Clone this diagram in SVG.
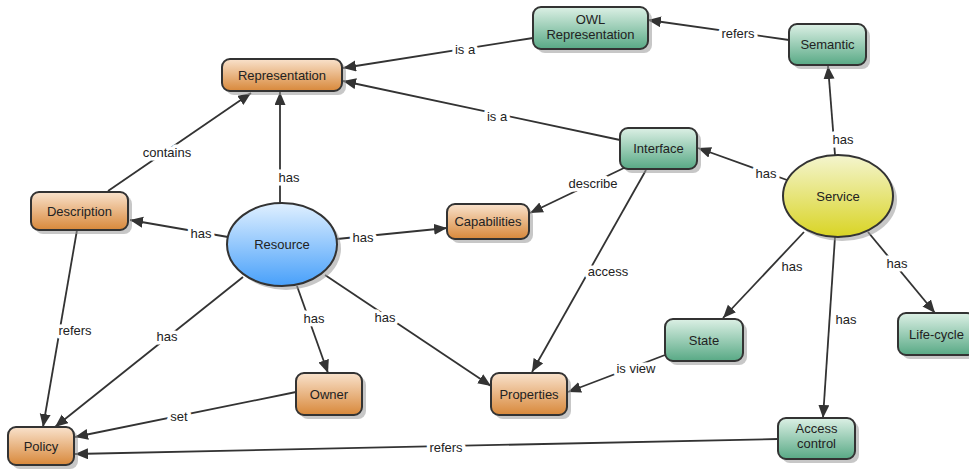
<svg xmlns="http://www.w3.org/2000/svg" width="969" height="470" viewBox="0 0 969 470">
<defs>
<linearGradient id="gOr" x1="0" y1="0" x2="0" y2="1"><stop offset="0" stop-color="#f9e2cc"/><stop offset="1" stop-color="#d8883a"/></linearGradient>
<linearGradient id="gGr" x1="0" y1="0" x2="0" y2="1"><stop offset="0" stop-color="#dcf0e5"/><stop offset="1" stop-color="#58a985"/></linearGradient>
<linearGradient id="gBl" x1="0" y1="0" x2="0" y2="1"><stop offset="0" stop-color="#e0f0ff"/><stop offset="1" stop-color="#48a0fa"/></linearGradient>
<linearGradient id="gYe" x1="0" y1="0" x2="0" y2="1"><stop offset="0" stop-color="#f4f5cf"/><stop offset="1" stop-color="#d9d424"/></linearGradient>
<marker id="arr" markerUnits="userSpaceOnUse" markerWidth="14" markerHeight="12" refX="13" refY="5.5" orient="auto"><path d="M0,0 L13,5.5 L0,11 z" fill="#333"/></marker>
<style>
.n{stroke:#333;stroke-width:2}
.sh{fill:#999;opacity:.55}
.t{font-family:"Liberation Sans",Arial,sans-serif;font-size:13px;fill:#222;text-anchor:middle}
.l{font-family:"Liberation Sans",Arial,sans-serif;font-size:13px;fill:#222;text-anchor:middle;stroke:#fff;stroke-width:7;paint-order:stroke;stroke-linejoin:round}
.c{stroke:#333;stroke-width:1.8;fill:none}
.a{marker-end:url(#arr)}
</style>
</defs>
<rect width="969" height="470" fill="#fff"/>
<g id="connectors">
<line class="c a" x1="533" y1="38" x2="343" y2="68"/>
<line class="c a" x1="620" y1="140" x2="343" y2="81"/>
<line class="c a" x1="789" y1="40" x2="648" y2="20"/>
<line class="c a" x1="835" y1="155" x2="828" y2="66"/>
<line class="c a" x1="787" y1="180" x2="698" y2="148"/>
<line class="c a" x1="280" y1="203" x2="280" y2="92"/>
<line class="c a" x1="108" y1="191" x2="251" y2="93"/>
<line class="c a" x1="228" y1="237" x2="130" y2="220"/>
<line class="c a" x1="337" y1="239" x2="447" y2="228"/>
<line class="c a" x1="626" y1="167" x2="530" y2="213"/>
<line class="c a" x1="646" y1="170" x2="532" y2="372"/>
<line class="c a" x1="325" y1="275" x2="491" y2="386"/>
<line class="c a" x1="297" y1="286" x2="328" y2="373"/>
<line class="c a" x1="243" y1="277" x2="55" y2="427"/>
<line class="c a" x1="77" y1="230" x2="43" y2="427"/>
<line class="c a" x1="296" y1="392" x2="75" y2="437"/>
<line class="c a" x1="778" y1="439" x2="75" y2="454"/>
<line class="c a" x1="804" y1="232" x2="723" y2="318"/>
<line class="c a" x1="835" y1="237" x2="823" y2="418"/>
<line class="c a" x1="868" y1="232" x2="935" y2="313"/>
<line class="c a" x1="665" y1="355" x2="568" y2="392"/>
<text class="l" x="465" y="54">is a</text>
<text class="l" x="497" y="121">is a</text>
<text class="l" x="738" y="38">refers</text>
<text class="l" x="843" y="144">has</text>
<text class="l" x="766" y="178">has</text>
<text class="l" x="289" y="182">has</text>
<text class="l" x="167" y="157">contains</text>
<text class="l" x="201" y="238">has</text>
<text class="l" x="363" y="242">has</text>
<text class="l" x="593" y="188">describe</text>
<text class="l" x="608" y="276">access</text>
<text class="l" x="385" y="322">has</text>
<text class="l" x="314" y="323">has</text>
<text class="l" x="167" y="341">has</text>
<text class="l" x="75" y="335">refers</text>
<text class="l" x="179" y="421">set</text>
<text class="l" x="446" y="452">refers</text>
<text class="l" x="792" y="271">has</text>
<text class="l" x="846" y="324">has</text>
<text class="l" x="897" y="268">has</text>
<text class="l" x="636" y="373">is view</text>
</g>
<g id="representation"><rect class="sh" x="226" y="63" width="120" height="32" rx="8"/><rect class="n" x="222" y="59" width="120" height="32" rx="8" fill="url(#gOr)"/><text class="t" x="282" y="79.5">Representation</text></g>
<g id="owl-representation"><rect class="sh" x="537" y="11" width="115" height="42" rx="8"/><rect class="n" x="533" y="7" width="115" height="42" rx="8" fill="url(#gGr)"/><text class="t" x="590.5" y="24">OWL</text><text class="t" x="590.5" y="39">Representation</text></g>
<g id="semantic"><rect class="sh" x="793" y="28" width="77" height="41" rx="8"/><rect class="n" x="789" y="24" width="77" height="41" rx="8" fill="url(#gGr)"/><text class="t" x="827.5" y="49">Semantic</text></g>
<g id="interface"><rect class="sh" x="624" y="132" width="77" height="41" rx="8"/><rect class="n" x="620" y="128" width="77" height="41" rx="8" fill="url(#gGr)"/><text class="t" x="658.5" y="153">Interface</text></g>
<g id="service"><ellipse class="sh" cx="842" cy="200" rx="55" ry="41"/><ellipse class="n" cx="838" cy="196" rx="55" ry="41" fill="url(#gYe)"/><text class="t" x="838" y="200.5">Service</text></g>
<g id="description"><rect class="sh" x="35" y="196" width="97" height="38" rx="8"/><rect class="n" x="31" y="192" width="97" height="38" rx="8" fill="url(#gOr)"/><text class="t" x="79.5" y="215.5">Description</text></g>
<g id="resource"><ellipse class="sh" cx="286" cy="248.5" rx="55" ry="41.5"/><ellipse class="n" cx="282" cy="244.5" rx="55" ry="41.5" fill="url(#gBl)"/><text class="t" x="282" y="249">Resource</text></g>
<g id="capabilities"><rect class="sh" x="451" y="208" width="82" height="35" rx="8"/><rect class="n" x="447" y="204" width="82" height="35" rx="8" fill="url(#gOr)"/><text class="t" x="488" y="226">Capabilities</text></g>
<g id="policy"><rect class="sh" x="12" y="431" width="66" height="38" rx="8"/><rect class="n" x="8" y="427" width="66" height="38" rx="8" fill="url(#gOr)"/><text class="t" x="41" y="450.5">Policy</text></g>
<g id="owner"><rect class="sh" x="300" y="377" width="66" height="42" rx="8"/><rect class="n" x="296" y="373" width="66" height="42" rx="8" fill="url(#gOr)"/><text class="t" x="329" y="398.5">Owner</text></g>
<g id="properties"><rect class="sh" x="495" y="377" width="76" height="42" rx="8"/><rect class="n" x="491" y="373" width="76" height="42" rx="8" fill="url(#gOr)"/><text class="t" x="529" y="398.5">Properties</text></g>
<g id="state"><rect class="sh" x="669" y="323" width="78" height="42" rx="8"/><rect class="n" x="665" y="319" width="78" height="42" rx="8" fill="url(#gGr)"/><text class="t" x="704" y="344.5">State</text></g>
<g id="access-control"><rect class="sh" x="782" y="422" width="77" height="41" rx="8"/><rect class="n" x="778" y="418" width="77" height="41" rx="8" fill="url(#gGr)"/><text class="t" x="816.5" y="433">Access</text><text class="t" x="816.5" y="448">control</text></g>
<g id="life-cycle"><rect class="sh" x="902" y="317" width="77" height="42" rx="8"/><rect class="n" x="898" y="313" width="77" height="42" rx="8" fill="url(#gGr)"/><text class="t" x="936.5" y="338.5">Life-cycle</text></g>
</svg>
